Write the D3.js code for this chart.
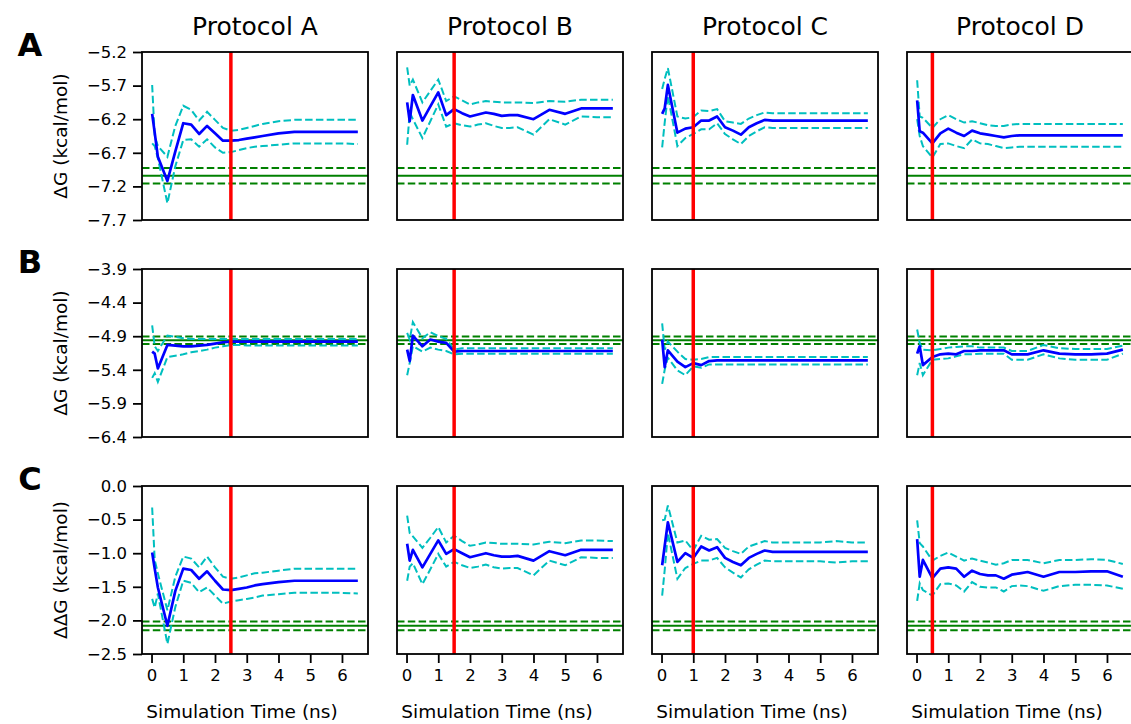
<!DOCTYPE html>
<html><head><meta charset="utf-8">
<script src="https://cdn.jsdelivr.net/npm/d3@7"></script>
<style>body{margin:0;background:#fff}svg{display:block;font-family:"DejaVu Sans",sans-serif}</style>
</head><body><svg id="c" width="1131" height="724"></svg>
<script>
const timeNs = [0.02,0.1,0.2,0.5,0.75,1.0,1.25,1.5,1.75,2.0,2.25,2.5,2.75,3.0,3.25,3.5,4.0,4.5,5.0,5.5,6.0,6.5];
const protocols = ["Protocol A","Protocol B","Protocol C","Protocol D"];
const rowLetters = ["A","B","C"];
const rowYLabels = ["ΔG (kcal/mol)","ΔG (kcal/mol)","ΔΔG (kcal/mol)"];
const rowDomains = [[-7.7,-5.2],[-6.4,-3.9],[-2.5,0.0]];
const rowTicks = [[-7.7,-7.2,-6.7,-6.2,-5.7,-5.2],[-6.4,-5.9,-5.4,-4.9,-4.4,-3.9],[-2.5,-2.0,-1.5,-1.0,-0.5,0.0]];
const xTicks = [0,1,2,3,4,5,6];
const refValue = [-7.04,-4.96,-2.08];
const refError = [0.115,0.055,0.065];
const cutoffNs = [2.5,1.5,1.0,0.5];

// Row A (ΔG)
const meanA_A = [-6.12,-6.40,-6.76,-7.12,-6.68,-6.26,-6.28,-6.42,-6.30,-6.41,-6.52,-6.52,-6.51,-6.49,-6.47,-6.45,-6.41,-6.39,-6.39,-6.39,-6.39,-6.39];
const upA_A   = [-5.69,-6.45,-6.60,-6.76,-6.30,-6.00,-6.06,-6.22,-6.09,-6.21,-6.33,-6.37,-6.36,-6.33,-6.30,-6.27,-6.23,-6.21,-6.21,-6.21,-6.21,-6.21];
const loA_A   = [-6.56,-6.60,-6.78,-7.45,-6.90,-6.51,-6.50,-6.61,-6.50,-6.62,-6.70,-6.69,-6.66,-6.63,-6.61,-6.60,-6.58,-6.56,-6.56,-6.56,-6.56,-6.57];
const meanA_B = [-5.95,-6.23,-5.84,-6.22,-6.01,-5.80,-6.14,-6.05,-6.11,-6.16,-6.13,-6.10,-6.12,-6.15,-6.14,-6.14,-6.20,-6.06,-6.12,-6.04,-6.04,-6.04];
const upA_B   = [-5.43,-5.70,-5.61,-5.95,-5.78,-5.61,-5.93,-5.86,-5.92,-5.98,-5.95,-5.93,-5.94,-5.95,-5.95,-5.95,-5.96,-5.93,-5.94,-5.91,-5.91,-5.91];
const loA_B   = [-6.58,-6.10,-6.20,-6.48,-6.23,-5.98,-6.31,-6.26,-6.29,-6.31,-6.28,-6.26,-6.30,-6.33,-6.33,-6.32,-6.43,-6.20,-6.28,-6.16,-6.17,-6.17];
const meanA_C = [-6.12,-6.04,-5.69,-6.40,-6.34,-6.32,-6.22,-6.22,-6.16,-6.32,-6.37,-6.43,-6.32,-6.26,-6.21,-6.22,-6.22,-6.22,-6.22,-6.22,-6.22,-6.22];
const upA_C   = [-5.75,-5.60,-5.44,-6.16,-6.19,-6.17,-6.07,-6.08,-6.05,-6.23,-6.25,-6.27,-6.19,-6.14,-6.10,-6.11,-6.11,-6.11,-6.11,-6.11,-6.11,-6.11];
const loA_C   = [-6.62,-6.25,-5.85,-6.60,-6.48,-6.42,-6.35,-6.35,-6.26,-6.42,-6.50,-6.57,-6.45,-6.38,-6.32,-6.33,-6.33,-6.33,-6.33,-6.33,-6.33,-6.33];
const meanA_D = [-5.92,-6.38,-6.40,-6.56,-6.41,-6.34,-6.40,-6.45,-6.37,-6.41,-6.43,-6.45,-6.47,-6.45,-6.44,-6.44,-6.44,-6.44,-6.44,-6.44,-6.44,-6.44];
const upA_D   = [-5.62,-6.16,-6.18,-6.33,-6.20,-6.14,-6.20,-6.25,-6.23,-6.26,-6.29,-6.30,-6.30,-6.28,-6.27,-6.27,-6.27,-6.27,-6.27,-6.27,-6.27,-6.27];
const loA_D   = [-6.20,-6.45,-6.60,-6.77,-6.57,-6.56,-6.60,-6.63,-6.50,-6.56,-6.57,-6.60,-6.63,-6.62,-6.61,-6.61,-6.61,-6.61,-6.61,-6.61,-6.61,-6.61];
// Row B (ΔG)
const meanB_A = [-5.13,-5.16,-5.38,-5.03,-5.04,-5.05,-5.05,-5.04,-5.03,-5.01,-4.99,-4.98,-4.98,-4.98,-4.98,-4.98,-4.98,-4.98,-4.98,-4.98,-4.98,-4.98];
const upB_A   = [-4.74,-5.05,-5.12,-4.89,-4.91,-4.93,-4.94,-4.94,-4.94,-4.94,-4.94,-4.94,-4.94,-4.94,-4.94,-4.94,-4.94,-4.94,-4.94,-4.94,-4.94,-4.94];
const loB_A   = [-5.52,-5.45,-5.58,-5.21,-5.19,-5.17,-5.14,-5.12,-5.10,-5.07,-5.05,-5.03,-5.03,-5.04,-5.04,-5.04,-5.04,-5.04,-5.04,-5.04,-5.04,-5.04];
const meanB_B = [-5.10,-5.27,-4.89,-5.05,-4.95,-4.98,-5.00,-5.13,-5.12,-5.12,-5.12,-5.12,-5.12,-5.12,-5.12,-5.12,-5.12,-5.12,-5.12,-5.12,-5.12,-5.12];
const upB_B   = [-4.85,-4.95,-4.69,-4.93,-4.84,-4.90,-4.94,-5.10,-5.08,-5.08,-5.08,-5.08,-5.08,-5.08,-5.08,-5.08,-5.08,-5.08,-5.08,-5.08,-5.08,-5.08];
const loB_B   = [-5.48,-5.30,-5.05,-5.13,-5.07,-5.10,-5.12,-5.17,-5.16,-5.16,-5.16,-5.16,-5.16,-5.16,-5.16,-5.16,-5.16,-5.16,-5.16,-5.16,-5.16,-5.16];
const meanB_C = [-4.95,-5.36,-5.11,-5.28,-5.36,-5.30,-5.33,-5.27,-5.26,-5.26,-5.26,-5.26,-5.26,-5.26,-5.26,-5.26,-5.26,-5.26,-5.26,-5.26,-5.26,-5.26];
const upB_C   = [-4.71,-5.10,-4.98,-5.13,-5.24,-5.25,-5.24,-5.21,-5.21,-5.21,-5.21,-5.21,-5.21,-5.21,-5.21,-5.21,-5.21,-5.21,-5.21,-5.21,-5.21,-5.21];
const loB_C   = [-5.61,-5.40,-5.22,-5.41,-5.48,-5.35,-5.37,-5.32,-5.32,-5.32,-5.32,-5.32,-5.32,-5.32,-5.32,-5.32,-5.32,-5.32,-5.32,-5.32,-5.32,-5.32];
const meanB_D = [-5.16,-5.05,-5.33,-5.21,-5.17,-5.16,-5.17,-5.12,-5.12,-5.11,-5.11,-5.11,-5.11,-5.17,-5.17,-5.17,-5.11,-5.16,-5.17,-5.17,-5.16,-5.10];
const upB_D   = [-4.80,-5.00,-5.10,-5.11,-5.09,-5.07,-5.06,-5.05,-5.05,-5.07,-5.07,-5.07,-5.07,-5.12,-5.12,-5.12,-5.03,-5.08,-5.09,-5.09,-5.09,-5.04];
const loB_D   = [-5.48,-5.30,-5.48,-5.25,-5.24,-5.23,-5.20,-5.17,-5.17,-5.16,-5.16,-5.16,-5.16,-5.25,-5.25,-5.25,-5.17,-5.23,-5.25,-5.25,-5.25,-5.16];
// Row C (ΔΔG)
const meanC_A = [-0.99,-1.23,-1.51,-2.08,-1.56,-1.23,-1.25,-1.38,-1.27,-1.41,-1.54,-1.55,-1.53,-1.51,-1.48,-1.46,-1.43,-1.41,-1.41,-1.41,-1.41,-1.41];
const upC_A   = [-0.32,-1.10,-1.30,-1.85,-1.35,-1.05,-1.08,-1.21,-1.05,-1.21,-1.35,-1.38,-1.36,-1.33,-1.30,-1.29,-1.26,-1.23,-1.23,-1.23,-1.23,-1.23];
const loC_A   = [-1.68,-1.81,-1.60,-2.35,-1.80,-1.41,-1.44,-1.58,-1.51,-1.63,-1.75,-1.72,-1.70,-1.68,-1.66,-1.63,-1.61,-1.59,-1.59,-1.59,-1.59,-1.60];
const meanC_B = [-0.86,-1.11,-0.95,-1.21,-1.01,-0.81,-1.01,-0.94,-1.00,-1.06,-1.03,-1.00,-1.03,-1.05,-1.05,-1.04,-1.11,-0.97,-1.03,-0.95,-0.95,-0.95];
const upC_B   = [-0.44,-0.70,-0.75,-0.92,-0.77,-0.61,-0.84,-0.74,-0.82,-0.89,-0.87,-0.84,-0.85,-0.86,-0.86,-0.86,-0.87,-0.83,-0.85,-0.81,-0.81,-0.82];
const loC_B   = [-1.41,-1.20,-1.15,-1.46,-1.24,-1.01,-1.20,-1.13,-1.18,-1.22,-1.20,-1.17,-1.21,-1.23,-1.22,-1.22,-1.33,-1.11,-1.18,-1.06,-1.07,-1.07];
const meanC_C = [-1.18,-0.89,-0.54,-1.13,-1.00,-1.07,-0.90,-0.96,-0.91,-1.07,-1.13,-1.18,-1.07,-1.01,-0.96,-0.98,-0.98,-0.98,-0.98,-0.98,-0.98,-0.98];
const upC_C   = [-0.51,-0.50,-0.29,-0.84,-0.81,-0.96,-0.74,-0.80,-0.79,-0.92,-0.97,-1.01,-0.90,-0.86,-0.82,-0.84,-0.84,-0.84,-0.84,-0.82,-0.84,-0.84];
const loC_C   = [-1.63,-1.25,-0.70,-1.38,-1.22,-1.16,-1.11,-1.11,-1.07,-1.21,-1.29,-1.36,-1.24,-1.17,-1.11,-1.12,-1.12,-1.12,-1.12,-1.14,-1.12,-1.12];
const meanC_D = [-0.79,-1.35,-1.10,-1.37,-1.23,-1.21,-1.23,-1.35,-1.26,-1.31,-1.33,-1.33,-1.38,-1.32,-1.30,-1.28,-1.35,-1.28,-1.28,-1.27,-1.27,-1.35];
const upC_D   = [-0.51,-0.85,-0.90,-1.11,-1.04,-0.99,-1.05,-1.11,-1.08,-1.11,-1.14,-1.17,-1.15,-1.10,-1.10,-1.10,-1.15,-1.10,-1.10,-1.09,-1.10,-1.16];
const loC_D   = [-1.71,-1.45,-1.55,-1.63,-1.46,-1.45,-1.48,-1.57,-1.43,-1.50,-1.51,-1.51,-1.57,-1.49,-1.48,-1.49,-1.56,-1.49,-1.47,-1.47,-1.48,-1.53];

const panels = [
  [[meanA_A,upA_A,loA_A],[meanA_B,upA_B,loA_B],[meanA_C,upA_C,loA_C],[meanA_D,upA_D,loA_D]],
  [[meanB_A,upB_A,loB_A],[meanB_B,upB_B,loB_B],[meanB_C,upB_C,loB_C],[meanB_D,upB_D,loB_D]],
  [[meanC_A,upC_A,loC_A],[meanC_B,upC_B,loC_B],[meanC_C,upC_C,loC_C],[meanC_D,upC_D,loC_D]]
];

const svg = d3.select("#c");
const colLeft = [142,397,652,907], pw = 226;
const rowTop = [52,269,486], ph = 168;
const fmt = d => d3.format(".1f")(d).replace("-","\u2212");
const DASH = "7.5,3.3";

panels.forEach((row, r) => {
  row.forEach((series, c) => {
    const x = d3.scaleLinear().domain([-0.30,6.82]).range([colLeft[c], colLeft[c]+pw]);
    const y = d3.scaleLinear().domain(rowDomains[r]).range([rowTop[r]+ph, rowTop[r]]);
    const clipId = `clip${r}${c}`;
    svg.append("clipPath").attr("id", clipId).append("rect")
      .attr("x", colLeft[c]).attr("y", rowTop[r]).attr("width", pw).attr("height", ph);
    const g = svg.append("g").attr("clip-path", `url(#${clipId})`);
    [[refValue[r],"none"],[refValue[r]+refError[r],DASH],[refValue[r]-refError[r],DASH]].forEach(([v,dash]) => {
      g.append("line").attr("x1", colLeft[c]).attr("x2", colLeft[c]+pw)
        .attr("y1", y(v)).attr("y2", y(v))
        .attr("stroke", "#008000").attr("stroke-width", 2).attr("stroke-dasharray", dash);
    });
    const line = d3.line().x((d,i) => x(timeNs[i])).y(d => y(d));
    [series[1], series[2]].forEach(s => {
      g.append("path").attr("d", line(s)).attr("fill","none")
        .attr("stroke","#00bfbf").attr("stroke-width",2).attr("stroke-dasharray",DASH);
    });
    g.append("path").attr("d", line(series[0])).attr("fill","none")
      .attr("stroke","#0000ff").attr("stroke-width",2.7).attr("stroke-linejoin","round");
    g.append("line").attr("x1", x(cutoffNs[c])).attr("x2", x(cutoffNs[c]))
      .attr("y1", rowTop[r]).attr("y2", rowTop[r]+ph)
      .attr("stroke","#ff0000").attr("stroke-width",3.5);
    svg.append("rect").attr("x", colLeft[c]).attr("y", rowTop[r]).attr("width", pw).attr("height", ph)
      .attr("fill","none").attr("stroke","#000").attr("stroke-width",1.8);
    if (c === 0) {
      const ax = d3.axisLeft(y).tickValues(rowTicks[r]).tickFormat(fmt).tickSize(9).tickPadding(6);
      const ga = svg.append("g").attr("transform", `translate(${colLeft[c]},0)`).call(ax);
      ga.select(".domain").remove();
      ga.selectAll("line").attr("stroke-width",1.8);
      ga.selectAll("text").attr("font-size",16.5).attr("font-family","DejaVu Sans").attr("fill","#000");
      svg.append("text").attr("transform", `translate(${62},${rowTop[r]+ph/2}) rotate(-90)`)
        .attr("text-anchor","middle").attr("dominant-baseline","middle")
        .attr("font-size",18.5).text(rowYLabels[r]);
    }
    if (r === 2) {
      const ax = d3.axisBottom(x).tickValues(xTicks).tickFormat(d3.format("d")).tickSize(9).tickPadding(6);
      const ga = svg.append("g").attr("transform", `translate(0,${rowTop[r]+ph})`).call(ax);
      ga.select(".domain").remove();
      ga.selectAll("line").attr("stroke-width",1.8);
      ga.selectAll("text").attr("font-size",16.5).attr("font-family","DejaVu Sans").attr("fill","#000");
      svg.append("text").attr("x", colLeft[c]+pw/2-13).attr("y", 713)
        .attr("text-anchor","middle").attr("dominant-baseline","middle")
        .attr("font-size",18.5).text("Simulation Time (ns)");
    }
    if (r === 0) {
      svg.append("text").attr("x", colLeft[c]+pw/2).attr("y", 28)
        .attr("text-anchor","middle").attr("dominant-baseline","middle")
        .attr("font-size",25).text(protocols[c]);
    }
  });
  svg.append("text").attr("x", 30).attr("y", rowTop[r]-5)
    .attr("text-anchor","middle").attr("dominant-baseline","middle")
    .attr("font-size",32).attr("font-weight","bold").text(rowLetters[r]);
});
</script></body></html>
